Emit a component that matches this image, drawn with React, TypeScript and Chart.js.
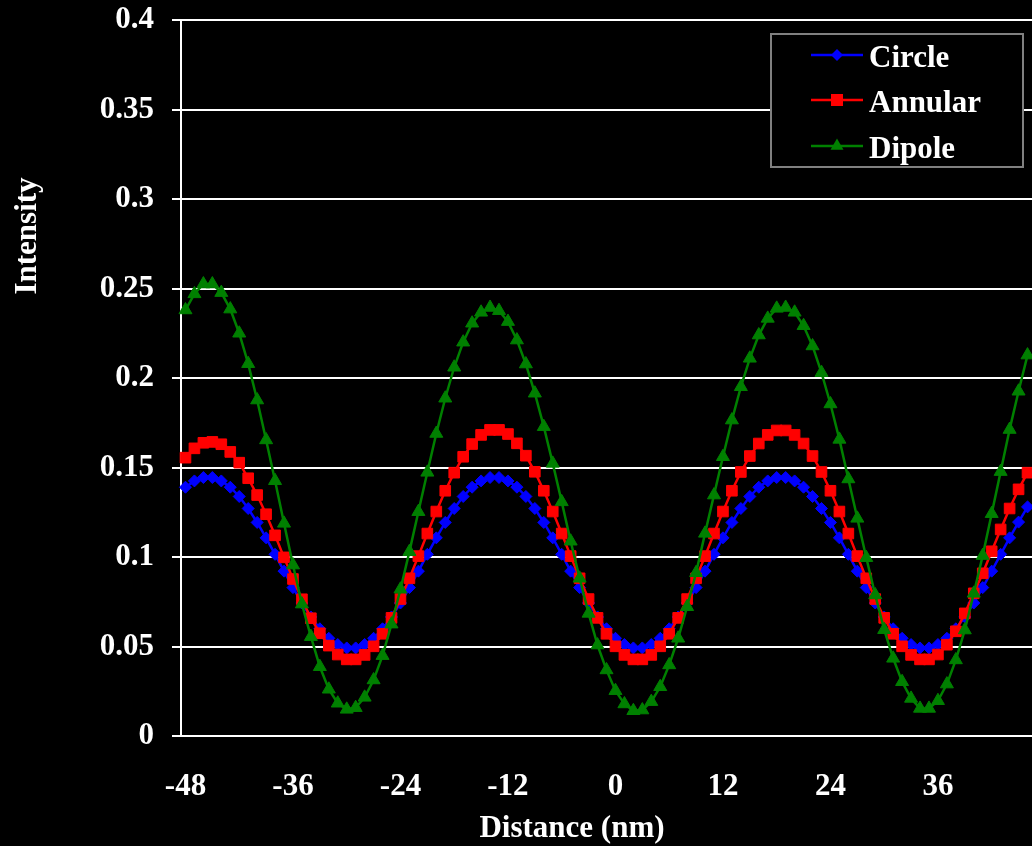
import { useEffect, useRef } from "react";
import { Chart, registerables } from "chart.js";

Chart.register(...registerables);

// Distance along the profile (nm), one sample per nanometre
const distance = [
  -48, -47, -46, -45, -44, -43, -42, -41, -40, -39,
  -38, -37, -36, -35, -34, -33, -32, -31, -30, -29,
  -28, -27, -26, -25, -24, -23, -22, -21, -20, -19,
  -18, -17, -16, -15, -14, -13, -12, -11, -10, -9,
  -8, -7, -6, -5, -4, -3, -2, -1, 0, 1,
  2, 3, 4, 5, 6, 7, 8, 9, 10, 11,
  12, 13, 14, 15, 16, 17, 18, 19, 20, 21,
  22, 23, 24, 25, 26, 27, 28, 29, 30, 31,
  32, 33, 34, 35, 36, 37, 38, 39, 40, 41,
  42, 43, 44, 45, 46,
];

const circle = [
  0.1390, 0.1425, 0.1444, 0.1444, 0.1425, 0.1390, 0.1338, 0.1271, 0.1193, 0.1107,
  0.1015, 0.0921, 0.0829, 0.0743, 0.0665, 0.0599, 0.0546, 0.0511, 0.0492, 0.0492,
  0.0511, 0.0546, 0.0599, 0.0665, 0.0743, 0.0829, 0.0921, 0.1015, 0.1107, 0.1193,
  0.1271, 0.1338, 0.1390, 0.1425, 0.1444, 0.1444, 0.1425, 0.1390, 0.1338, 0.1271,
  0.1193, 0.1107, 0.1015, 0.0921, 0.0829, 0.0743, 0.0665, 0.0599, 0.0546, 0.0511,
  0.0492, 0.0492, 0.0511, 0.0546, 0.0599, 0.0665, 0.0743, 0.0829, 0.0921, 0.1015,
  0.1107, 0.1193, 0.1271, 0.1338, 0.1390, 0.1425, 0.1444, 0.1444, 0.1425, 0.1390,
  0.1338, 0.1271, 0.1193, 0.1107, 0.1015, 0.0921, 0.0829, 0.0743, 0.0665, 0.0599,
  0.0546, 0.0511, 0.0492, 0.0492, 0.0511, 0.0546, 0.0599, 0.0665, 0.0743, 0.0829,
  0.0921, 0.1015, 0.1107, 0.1195, 0.1280,
];

const annular = [
  0.1555, 0.1607, 0.1638, 0.1643, 0.1630, 0.1587, 0.1527, 0.1440, 0.1346, 0.1239,
  0.1121, 0.0998, 0.0877, 0.0764, 0.0658, 0.0574, 0.0505, 0.0455, 0.0428, 0.0428,
  0.0453, 0.0501, 0.0571, 0.0660, 0.0765, 0.0881, 0.1005, 0.1131, 0.1254, 0.1370,
  0.1471, 0.1560, 0.1631, 0.1682, 0.1710, 0.1710, 0.1687, 0.1635, 0.1566, 0.1476,
  0.1370, 0.1254, 0.1131, 0.1005, 0.0881, 0.0765, 0.0660, 0.0571, 0.0501, 0.0453,
  0.0428, 0.0428, 0.0453, 0.0501, 0.0571, 0.0660, 0.0765, 0.0881, 0.1005, 0.1131,
  0.1254, 0.1370, 0.1475, 0.1564, 0.1634, 0.1682, 0.1707, 0.1707, 0.1682, 0.1634,
  0.1564, 0.1475, 0.1370, 0.1254, 0.1131, 0.1005, 0.0881, 0.0765, 0.0660, 0.0571,
  0.0501, 0.0453, 0.0428, 0.0428, 0.0455, 0.0510, 0.0585, 0.0685, 0.0797, 0.0909,
  0.1032, 0.1154, 0.1271, 0.1378, 0.1471,
];

const dipole = [
  0.2380, 0.2470, 0.2525, 0.2525, 0.2477, 0.2385, 0.2250, 0.2080, 0.1877, 0.1654,
  0.1426, 0.1188, 0.0955, 0.0737, 0.0555, 0.0387, 0.0261, 0.0183, 0.0149, 0.0158,
  0.0216, 0.0313, 0.0449, 0.0625, 0.0820, 0.1030, 0.1253, 0.1473, 0.1690, 0.1887,
  0.2060, 0.2200, 0.2306, 0.2367, 0.2394, 0.2376, 0.2315, 0.2212, 0.2078, 0.1915,
  0.1728, 0.1523, 0.1308, 0.1088, 0.0881, 0.0685, 0.0508, 0.0369, 0.0253, 0.0179,
  0.0141, 0.0145, 0.0192, 0.0275, 0.0397, 0.0546, 0.0722, 0.0912, 0.1132, 0.1346,
  0.1560, 0.1765, 0.1951, 0.2110, 0.2240, 0.2333, 0.2389, 0.2394, 0.2367, 0.2292,
  0.2179, 0.2030, 0.1855, 0.1657, 0.1436, 0.1216, 0.0996, 0.0788, 0.0594, 0.0434,
  0.0303, 0.0210, 0.0154, 0.0154, 0.0197, 0.0290, 0.0425, 0.0592, 0.0797, 0.1008,
  0.1242, 0.1477, 0.1712, 0.1926, 0.2128,
];

// Category labels shown on the distance axis
const xTickLabels = ["-48", "-36", "-24", "-12", "0", "12", "24", "36"];
const yMin = 0;
const yMax = 0.4;
const yStep = 0.05;

const FONT_FAMILY = "'Liberation Serif', 'Times New Roman', serif";
const TEXT_COLOR = "#ffffff";

type Marker = "diamond" | "square" | "triangle";

function drawMarker(ctx: CanvasRenderingContext2D, kind: Marker, x: number, y: number, color: string) {
  ctx.save();
  ctx.fillStyle = color;
  ctx.beginPath();
  if (kind === "diamond") {
    const r = 6;
    ctx.moveTo(x, y - r);
    ctx.lineTo(x + r, y);
    ctx.lineTo(x, y + r);
    ctx.lineTo(x - r, y);
  } else if (kind === "square") {
    const h = 6;
    ctx.rect(x - h, y - h, 2 * h, 2 * h);
  } else {
    const r = 7.5;
    ctx.moveTo(x, y - r);
    ctx.lineTo(x + r * 0.866, y + r * 0.5);
    ctx.lineTo(x - r * 0.866, y + r * 0.5);
  }
  ctx.closePath();
  ctx.fill();
  ctx.restore();
}

const legendMarkers: Marker[] = ["diamond", "square", "triangle"];

// Axis titles and the boxed legend inside the plot area
const decorations = {
  id: "decorations",
  afterDraw(chart: Chart) {
    const ctx = chart.ctx;
    ctx.save();
    ctx.fillStyle = TEXT_COLOR;
    ctx.font = `bold 31px ${FONT_FAMILY}`;

    // y-axis title
    ctx.save();
    ctx.translate(36, 236);
    ctx.rotate(-Math.PI / 2);
    ctx.textAlign = "center";
    ctx.textBaseline = "alphabetic";
    ctx.fillText("Intensity", 0, 0);
    ctx.restore();

    // x-axis title
    ctx.textAlign = "center";
    ctx.textBaseline = "alphabetic";
    ctx.fillText("Distance (nm)", 572, 837);

    // legend
    const bx = 770, by = 33, bw = 254, bh = 135;
    ctx.fillStyle = "#000000";
    ctx.fillRect(bx, by, bw, bh);
    ctx.strokeStyle = "#808080";
    ctx.lineWidth = 2;
    ctx.strokeRect(bx + 1, by + 1, bw - 2, bh - 2);

    const rows = [55, 100, 146];
    chart.data.datasets.forEach((ds: any, i: number) => {
      const y = rows[i];
      const color = ds.borderColor as string;
      ctx.strokeStyle = color;
      ctx.lineWidth = 2.5;
      ctx.beginPath();
      ctx.moveTo(811, y);
      ctx.lineTo(863, y);
      ctx.stroke();
      drawMarker(ctx, legendMarkers[i], 837, y, color);
      ctx.fillStyle = TEXT_COLOR;
      ctx.textAlign = "left";
      ctx.textBaseline = "alphabetic";
      ctx.fillText(ds.label, 869, y + 12);
    });
    ctx.restore();
  },
};

export default function App() {
  const canvasRef = useRef<HTMLCanvasElement | null>(null);

  useEffect(() => {
    const canvas = canvasRef.current;
    if (!canvas) return;
    const tickFont = { family: FONT_FAMILY, size: 31, weight: "bold" as const };

    const chart = new Chart(canvas, {
      type: "line",
      data: {
        labels: distance.map(String),
        datasets: [
          {
            label: "Circle",
            data: circle,
            borderColor: "#0000ff",
            backgroundColor: "#0000ff",
            borderWidth: 2.5,
            pointStyle: "rectRot",
            pointRadius: 6,
            pointBorderWidth: 1,
            tension: 0,
            order: 3,
          },
          {
            label: "Annular",
            data: annular,
            borderColor: "#ff0000",
            backgroundColor: "#ff0000",
            borderWidth: 2.5,
            pointStyle: "rect",
            pointRadius: 7.5,
            pointBorderWidth: 1,
            tension: 0,
            order: 2,
          },
          {
            label: "Dipole",
            data: dipole,
            borderColor: "#008000",
            backgroundColor: "#008000",
            borderWidth: 2.5,
            pointStyle: "triangle",
            pointRadius: 7.5,
            pointBorderWidth: 1,
            tension: 0,
            order: 1,
          },
        ],
      },
      options: {
        animation: false,
        responsive: false,
        maintainAspectRatio: false,
        layout: { autoPadding: false, padding: { top: 20, right: 0, bottom: 0, left: 0 } },
        plugins: {
          legend: { display: false },
          tooltip: { enabled: false },
          title: { display: false },
        },
        scales: {
          x: {
            type: "category",
            offset: true,
            // tick marks are hidden; their length only sets the label offset
            grid: { display: false, drawTicks: true, tickLength: 32 },
            border: { display: true, color: "#ffffff", width: 2 },
            ticks: {
              color: TEXT_COLOR,
              font: tickFont,
              autoSkip: false,
              maxRotation: 0,
              minRotation: 0,
              padding: 0,
              callback: (_v: any, index: number) => {
                const lbl = String(distance[index]);
                return xTickLabels.includes(lbl) ? lbl : "";
              },
            },
            afterFit: (scale: any) => {
              scale.height = 110;
              scale.paddingLeft = 0;
              scale.paddingRight = 0;
            },
          },
          y: {
            min: yMin,
            max: yMax,
            grid: {
              color: "#ffffff",
              lineWidth: 2,
              drawTicks: true,
              tickLength: 9,
              tickColor: "#ffffff",
            },
            border: { display: true, color: "#ffffff", width: 2 },
            ticks: {
              stepSize: yStep,
              color: TEXT_COLOR,
              font: tickFont,
              padding: 18,
              callback: (v: any) => String(Number(Number(v).toFixed(2))),
            },
            afterFit: (scale: any) => {
              scale.width = 181;
              scale.paddingTop = 0;
              scale.paddingBottom = 0;
            },
          },
        },
      },
      plugins: [decorations],
    });

    return () => chart.destroy();
  }, []);

  return (
    <div
      style={{
        position: "fixed",
        left: 0,
        top: 0,
        width: 1032,
        height: 846,
        background: "#000000",
        overflow: "hidden",
      }}
    >
      <canvas ref={canvasRef} width={1032} height={846} style={{ display: "block" }} />
    </div>
  );
}
